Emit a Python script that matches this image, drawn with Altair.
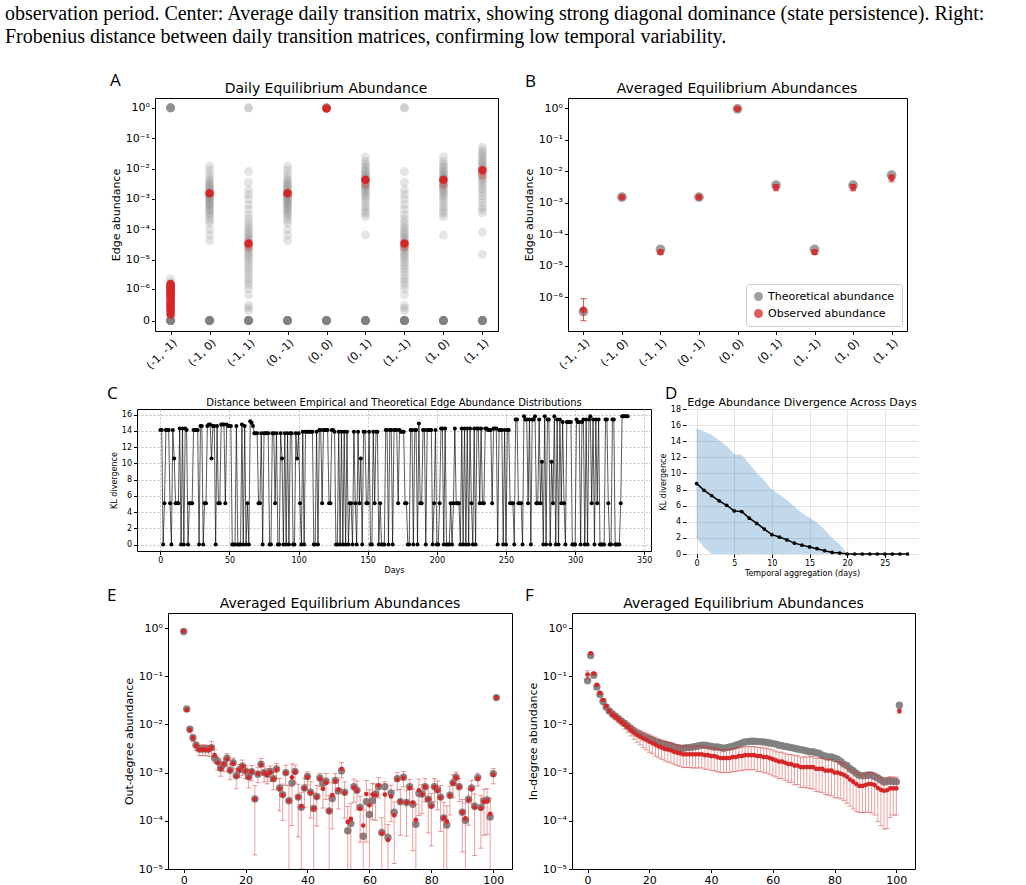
import altair as alt
import pandas as pd

RED = "#d62728"
GREY = "#7f7f7f"
SANS = "DejaVu Sans"

CAPTION = [
    "observation period.  Center: Average daily transition matrix, showing strong diagonal dominance (state persistence).  Right:",
    "Frobenius distance between daily transition matrices, confirming low temporal variability.",
]

CATS = ["(-1, -1)", "(-1, 0)", "(-1, 1)", "(0, -1)", "(0, 0)", "(0, 1)", "(1, -1)", "(1, 0)", "(1, 1)"]

# ---------------- A: daily equilibrium abundance per edge type ----------------
A_MM = [1.0] * 8 + [0.0] * 14 + [2.3e-6, 1.7e-6, 1.3e-6, 1.0e-6, 7e-7, 5e-7, 3e-7, 2e-7, 1.2e-7]
A_CROSS = [0.0] * 14 + [1.2e-2, 9e-3, 6.5e-3, 5e-3, 4.2e-3, 3.6e-3, 3.1e-3, 2.8e-3, 2.5e-3, 2.2e-3,
                        2.0e-3, 1.8e-3, 1.6e-3, 1.5e-3, 1.4e-3, 1.3e-3, 1.2e-3, 1.1e-3, 1.0e-3, 9e-4,
                        8e-4, 7e-4, 6.5e-4, 6e-4, 5e-4, 4.5e-4, 4e-4, 3.5e-4, 3e-4, 2.5e-4,
                        2e-4, 1.6e-4, 1.0e-4, 6.5e-5, 4.2e-5]
A_DIAG = [1.0] * 2 + [0.0] * 14 + [8e-3, 3.5e-3, 2e-3, 1.4e-3, 1e-3, 6.5e-4, 4.5e-4, 3e-4, 2.2e-4, 1.7e-4,
                                   1.3e-4, 1.1e-4, 9e-5, 7.5e-5, 6.5e-5, 5.5e-5, 4.8e-5, 4.2e-5, 3.6e-5, 3.1e-5,
                                   2.7e-5, 2.3e-5, 2e-5, 1.7e-5, 1.4e-5, 1.2e-5, 1e-5, 8e-6, 6.5e-6, 5e-6,
                                   4e-6, 3e-6, 2.3e-6, 1.8e-6, 1.4e-6, 1e-6, 6e-7, 2.2e-7, 1.6e-7, 1.1e-7]
A_STAY = [1.0] * 6 + [0.0] * 14
A_UP = [0.0] * 14 + [2.4e-2, 1.7e-2, 1.4e-2, 1.2e-2, 1.0e-2, 8.5e-3, 7.5e-3, 6.5e-3, 5.8e-3, 5.2e-3,
                     4.7e-3, 4.2e-3, 3.8e-3, 3.4e-3, 3.0e-3, 2.7e-3, 2.4e-3, 2.1e-3, 1.9e-3, 1.6e-3,
                     1.4e-3, 1.2e-3, 1.0e-3, 8e-4, 6e-4, 5e-4, 4e-4, 3.3e-4, 2.6e-4, 6.5e-5]
A_PP = [0.0] * 14 + [5e-2, 4e-2, 3.3e-2, 2.8e-2, 2.4e-2, 2e-2, 1.7e-2, 1.5e-2, 1.3e-2, 1.15e-2,
                     1e-2, 9e-3, 8e-3, 7e-3, 6e-3, 5.2e-3, 4.5e-3, 3.8e-3, 3.2e-3, 2.6e-3,
                     2.1e-3, 1.7e-3, 1.3e-3, 1e-3, 7.5e-4, 5.5e-4, 4.5e-4, 3.5e-4, 8e-5, 1.5e-5]
A_GREY = [A_MM, A_CROSS, A_DIAG, A_CROSS, A_STAY, A_UP, A_DIAG, A_UP, A_PP]

A_RED_MM = [1.5e-6, 1.3e-6, 1.15e-6, 1e-6, 9e-7, 8e-7, 7e-7, 6e-7, 5e-7, 4e-7, 3e-7, 2.5e-7, 2e-7, 1.5e-7, 1e-7, 6e-8]
A_RED_MEAN = [None, 1.55e-3, 3.4e-5, 1.55e-3, 0.95, 4.3e-3, 3.4e-5, 4.3e-3, 8.8e-3]
A_RED_FAINT = [None, None, 2.6e-5, None, None, 3.0e-3, 2.6e-5, 3.0e-3, 6.0e-3]

# ---------------- B: averaged abundances ----------------
B_THEO = [3.5e-7, 1.5e-3, 3.3e-5, 1.5e-3, 0.95, 3.6e-3, 3.3e-5, 3.6e-3, 7.5e-3]
B_OBS = [4.0e-7, 1.5e-3, 2.7e-5, 1.5e-3, 0.95, 3.1e-3, 2.7e-5, 3.1e-3, 6.2e-3]
B_LO = [1.8e-7, 1.45e-3, 2.3e-5, 1.45e-3, 0.93, 2.4e-3, 2.3e-5, 2.4e-3, 4.6e-3]
B_HI = [9.0e-7, 1.55e-3, 3.1e-5, 1.55e-3, 0.97, 3.8e-3, 3.1e-5, 3.8e-3, 7.6e-3]

# ---------------- C: daily KL divergence (one symbol per day) ----------------
C_LEVELS = {"0": 0.0, "5": 5.1, "R": 10.2, "T": 10.6, "a": 13.7, "b": 13.9, "c": 14.1, "d": 14.3,
            "e": 14.6, "f": 14.8, "l": 14.9, "j": 15.0, "g": 15.1, "k": 15.2, "h": 15.4, "i": 15.8}
C_DAYS = [
    "cc05ccc50c", "T555d0d0dc", "0555cccc0e", "e055effTee", "0e55fff5fe",
    "ee000e000f", "0e050kjeaa", "a55a0aaaa0", "0aa5a00aT0", "a0a0aa00aT",
    "a50b0bbbbb", "b00b0cc5cc", "cc55ccb00b", "0b0b0b0550", "b50b5T0bb5",
    "5b00b5bb05", "000cc0cc0c", "cc5cbbb550", "0cc0cc0l55", "cc0cccc05c",
    "005dd0d000", "505d5550d0", "d0d0d50d0d", "d5d55ddccc", "5ddd0ccc0c",
    "0cc5550hh5", "550ihh5h0h", "hi55h5R0i0", "hh0R5i0h0h", "5g50gggg00",
    "0hgg0gh0h0", "hi5h0h5h00", "00hh500hh0", "0005iiiii",
]

# ---------------- D: divergence vs temporal aggregation ----------------
D_AGG = list(range(29))
D_MEAN = [8.75, 7.9, 7.25, 6.6, 6.05, 5.35, 5.27, 4.45, 3.8, 3.1, 2.4, 2.1, 1.75, 1.35, 1.1,
          0.87, 0.66, 0.41, 0.2, 0.12, 0, 0, 0, 0, 0, 0, 0, 0, 0]
D_UPPER = [15.6, 15.2, 14.8, 14.1, 13.4, 12.4, 12.3, 11.2, 10.1, 9.1, 8.0, 7.4, 6.7, 5.9, 5.1,
           4.5, 3.9, 3.0, 2.0, 1.2, 0, 0, 0, 0, 0, 0, 0, 0, 0]
D_LOWER = [2.0, 0.8, 0, 0, 0, 0, 0, 0, 0, 0, 0, 0, 0, 0, 0,
           0, 0, 0, 0, 0, 0, 0, 0, 0, 0, 0, 0, 0, 0]

# ---------------- E: out-degree abundances ----------------
E_THEO = [
    0.85, 0.021, 0.0080, 0.0053, 0.0037, 0.0031, 0.0031, 0.0031, 0.0031, 0.0033,
    0.0020, 0.0017, 0.00125, 0.0015, 0.0020, 0.00112, 0.00160, 0.00086, 0.00115, 0.00135,
    0.00108, 0.00082, 0.00104, 0.000285, 0.00093, 0.00150, 0.00100, 0.00092, 0.00106, 0.00075,
    0.00119, 0.00048, 0.00035, 0.00100, 0.00026, 0.00061, 0.00106, 0.00031, 0.00019, 0.00048,
    0.00083, 0.00039, 0.00018, 0.00032, 0.00077, 0.00061, 0.00066, 0.00016, 0.00029, 0.00069,
    0.00042, 0.00108, 0.00039, 0.000062, 0.000088, 0.00051, 0.00043, 0.00019, 0.000048, 0.00025,
    0.000135, 0.00026, 0.00036, 0.00051, 0.000057, 0.00051, 0.000045, 0.00038, 0.00015, 0.00075,
    0.00025, 0.00080, 0.00024, 0.00051, 0.00022, 0.000085, 0.00037, 0.00036, 0.00051, 0.00028,
    0.00021, 0.00051, 0.00044, 0.00031, 0.000115, 0.000082, 0.00034, 0.00062, 0.00080, 0.00051,
    0.00015, 0.000103, 0.00028, 0.00048, 0.00020, 0.00078, 0.00019, 0.00026, 0.00027, 0.00012,
    0.00095, 0.036,
]
E_OBS = [
    0.86, 0.020, 0.0076, 0.0052, 0.0036, 0.0030, 0.0030, 0.0030, 0.0029, 0.0033,
    0.0023, 0.0016, 0.0012, 0.0015, 0.0019, 0.00110, 0.00155, 0.00084, 0.00113, 0.00135,
    0.00108, 0.00080, 0.00104, 0.00028, 0.00095, 0.00145, 0.00098, 0.00090, 0.00102, 0.00073,
    0.00115, 0.00046, 0.00034, 0.00098, 0.00026, 0.00080, 0.00102, 0.00031, 0.00020, 0.00047,
    0.00080, 0.00038, 0.00018, 0.00031, 0.00074, 0.00046, 0.00062, 0.00016, 0.00034, 0.00066,
    0.00044, 0.00120, 0.00038, 0.000095, 0.000110, 0.00049, 0.00042, 0.00018, 0.000080, 0.00036,
    0.00021, 0.00035, 0.00034, 0.00054, 0.000055, 0.00035, 0.000040, 0.00032, 0.00013, 0.00072,
    0.00025, 0.00078, 0.00024, 0.00048, 0.00024, 0.000105, 0.00043, 0.00035, 0.00050, 0.00028,
    0.00020, 0.00050, 0.00042, 0.00030, 0.000115, 0.000097, 0.00033, 0.00060, 0.00078, 0.00050,
    0.00015, 0.000112, 0.00027, 0.00046, 0.00019, 0.00075, 0.00018, 0.00025, 0.00026, 0.00014,
    0.00090, 0.036,
]
# relative spread (std / mean) of the observed abundance
E_REL = [
    0.02, 0.08, 0.12, 0.15, 0.2, 0.25, 0.25, 0.25, 0.25, 0.35,
    0.3, 0.3, 0.3, 0.3, 0.3, 0.35, 0.3, 0.45, 0.3, 0.35,
    0.3, 0.4, 0.35, 0.93, 0.35, 0.35, 0.35, 0.35, 0.35, 0.4,
    0.35, 0.65, 0.7, 0.45, 1.1, 0.9, 0.4, 0.85, 0.95, 0.6,
    0.3, 0.7, 1.1, 0.75, 0.3, 0.6, 0.55, 1.1, 0.8, 0.45,
    0.6, 0.35, 0.7, 1.1, 1.1, 0.5, 0.6, 0.8, 1.1, 0.9,
    1.1, 0.7, 0.7, 0.45, 1.1, 0.85, 1.1, 0.7, 0.9, 0.4,
    0.8, 0.35, 0.8, 0.5, 0.9, 1.1, 0.7, 0.6, 0.5, 0.8,
    0.85, 0.5, 0.6, 0.8, 1.1, 1.1, 0.6, 0.5, 0.3, 0.5,
    0.85, 1.1, 0.7, 0.5, 0.9, 0.3, 0.85, 0.8, 0.8, 1.1,
    0.35, 0.05,
]

# ---------------- F: in-degree abundances ----------------
F_THEO = [
    0.081, 0.27, 0.105, 0.060, 0.042, 0.030, 0.023, 0.019, 0.0166, 0.0148,
    0.0132, 0.0117, 0.0105, 0.0093, 0.0082, 0.0073, 0.0066, 0.0061, 0.0057, 0.0053,
    0.0050, 0.0047, 0.0044, 0.0042, 0.0040, 0.0039, 0.0037, 0.0036, 0.0034, 0.0033,
    0.0032, 0.0032, 0.0033, 0.0033, 0.0034, 0.0035, 0.0036, 0.0037, 0.0037, 0.0036,
    0.0035, 0.0034, 0.0034, 0.0033, 0.0032, 0.0033, 0.0034, 0.0035, 0.0037, 0.0039,
    0.0041, 0.0043, 0.0044, 0.0045, 0.0045, 0.0044, 0.0044, 0.0043, 0.0042, 0.0041,
    0.0040, 0.0039, 0.0037, 0.0036, 0.0035, 0.0034, 0.0033, 0.0032, 0.0031, 0.0030,
    0.0029, 0.0028, 0.0027, 0.0027, 0.0026, 0.0025, 0.0023, 0.0022, 0.0021, 0.0021,
    0.0020, 0.0019, 0.0017, 0.0015, 0.0014, 0.0012, 0.0011, 0.00097, 0.00088, 0.00086,
    0.00087, 0.00089, 0.00088, 0.00083, 0.00077, 0.00070, 0.00064, 0.00066, 0.00067, 0.00066,
    0.00065, 0.025,
]
F_OBS = [
    0.108, 0.30, 0.114, 0.066, 0.045, 0.032, 0.024, 0.019, 0.016, 0.0145,
    0.0128, 0.0113, 0.0100, 0.0088, 0.0077, 0.0068, 0.0061, 0.0056, 0.0051, 0.0048,
    0.0044, 0.0041, 0.0038, 0.0035, 0.0033, 0.0031, 0.0030, 0.0029, 0.0027, 0.0026,
    0.0025, 0.0024, 0.0024, 0.0024, 0.0024, 0.0024, 0.0024, 0.0024, 0.0023, 0.0023,
    0.0022, 0.0022, 0.0021, 0.0020, 0.0020, 0.0020, 0.0020, 0.0021, 0.0021, 0.0022,
    0.0022, 0.0023, 0.0023, 0.0023, 0.0023, 0.0022, 0.0022, 0.0021, 0.0021, 0.0020,
    0.0019, 0.0018, 0.0017, 0.0017, 0.0016, 0.0015, 0.0015, 0.0014, 0.0014, 0.0013,
    0.0013, 0.0013, 0.0013, 0.0013, 0.0012, 0.0012, 0.0012, 0.0011, 0.0011, 0.0011,
    0.0010, 0.00100, 0.00095, 0.00090, 0.00082, 0.00072, 0.00065, 0.00058, 0.00053, 0.00053,
    0.00055, 0.00058, 0.00058, 0.00055, 0.00048, 0.00044, 0.00042, 0.00043, 0.00047, 0.00047,
    0.00047, 0.019,
]
F_REL = [
    0.2, 0.05, 0.05, 0.05, 0.06, 0.07, 0.08, 0.1, 0.12, 0.14,
    0.15, 0.17, 0.2, 0.22, 0.25, 0.28, 0.3, 0.33, 0.36, 0.38,
    0.4, 0.4, 0.42, 0.42, 0.43, 0.44, 0.45, 0.45, 0.45, 0.46,
    0.46, 0.47, 0.47, 0.47, 0.48, 0.48, 0.48, 0.48, 0.49, 0.49,
    0.5, 0.5, 0.5, 0.5, 0.5, 0.5, 0.5, 0.5, 0.5, 0.5,
    0.5, 0.5, 0.5, 0.5, 0.5, 0.52, 0.52, 0.53, 0.53, 0.54,
    0.55, 0.55, 0.56, 0.56, 0.57, 0.58, 0.58, 0.6, 0.6, 0.62,
    0.62, 0.63, 0.64, 0.65, 0.66, 0.67, 0.68, 0.68, 0.69, 0.7,
    0.7, 0.7, 0.7, 0.71, 0.72, 0.72, 0.73, 0.73, 0.72, 0.72,
    0.73, 0.74, 0.75, 0.76, 0.8, 0.82, 0.84, 0.84, 0.75, 0.72,
    0.72, 0.1,
]

LOG_LABELS = ("datum.value == 0 ? '0' : '10' + ['⁰','⁻¹','⁻²','⁻³','⁻⁴','⁻⁵','⁻⁶','⁻⁷']"
              "[round(-log(datum.value) / LN10)]")
FRAME = alt.ViewBackground(stroke="black", strokeWidth=1)
NOFRAME = alt.ViewBackground(strokeOpacity=0)


def label(text, x, y, size, font=SANS, align="center"):
    return alt.Chart(pd.DataFrame({"t": [text]})).mark_text(
        align=align, baseline="alphabetic", font=font, fontSize=size, color="black"
    ).encode(text="t:N", x=alt.value(x), y=alt.value(y))


def letter(ch, x, y):
    return label(ch, x, y, 17, font="Open Sans", align="left")


def anchor(y):
    # invisible point that fixes the vertical extent of a row in the page layout
    return alt.Chart(pd.DataFrame({"t": [0]})).mark_point(opacity=0, size=1).encode(
        x=alt.value(50), y=alt.value(y))


def spacer(w):
    return alt.Chart(pd.DataFrame({"v": [0]})).mark_point(opacity=0, size=1).encode(
        x=alt.X("v:Q", axis=None), y=alt.Y("v:Q", axis=None)
    ).properties(width=w, height=10, view=NOFRAME)


def cat_x():
    return alt.X("cat:N", scale=alt.Scale(type="point", domain=CATS, padding=0.4),
                 axis=alt.Axis(title=None, labelAngle=-45, labelAlign="right", labelBaseline="top",
                               labelFontSize=11, labelPadding=2))


# ---- panel A
rows = []
for cat, vals in zip(CATS, A_GREY):
    rows += [{"cat": cat, "v": v} for v in vals]
df_a_grey = pd.DataFrame(rows)
red_rows = [{"cat": CATS[0], "v": v, "o": 1.0} for v in A_RED_MM]
for cat, m, f in zip(CATS, A_RED_MEAN, A_RED_FAINT):
    if m is not None:
        red_rows.append({"cat": cat, "v": m, "o": 1.0})
    if f is not None:
        red_rows.append({"cat": cat, "v": f, "o": 0.3})
df_a_red = pd.DataFrame(red_rows)

a_y = alt.Y("v:Q", scale=alt.Scale(type="symlog", constant=1e-7, domain=[-1.2e-7, 2.1], nice=False, zero=False),
            axis=alt.Axis(values=[0, 1e-6, 1e-5, 1e-4, 1e-3, 1e-2, 1e-1, 1], tickCount=30, labelExpr=LOG_LABELS,
                          title="Edge abundance", labelFontSize=11, titleFontSize=11, titlePadding=4))
a_grey = alt.Chart(df_a_grey).mark_circle(size=80, color=GREY, opacity=0.2).encode(x=cat_x(), y=a_y)
a_red = alt.Chart(df_a_red).mark_circle(size=72, color=RED).encode(
    x="cat:N", y="v:Q", opacity=alt.Opacity("o:Q", scale=None, legend=None))
panel_a = alt.layer(a_grey, a_red, letter("A", -45, -12), label("Daily Equilibrium Abundance", 171, -5, 14),
                    anchor(-32), anchor(281)).properties(width=343, height=233, view=FRAME)

# ---- panel B
df_b = pd.DataFrame({"cat": CATS, "theo": B_THEO, "obs": B_OBS, "lo": B_LO, "hi": B_HI})
b_scale = alt.Scale(type="log", domain=[8.5e-8, 2.1], nice=False)
b_y = alt.Y("theo:Q", scale=b_scale,
            axis=alt.Axis(values=[1e-6, 1e-5, 1e-4, 1e-3, 1e-2, 1e-1, 1], tickCount=30, labelExpr=LOG_LABELS,
                          title="Edge abundance", labelFontSize=11, titleFontSize=11, titlePadding=4))
series_color = alt.Color(
    "series:N",
    scale=alt.Scale(domain=["Theoretical abundance", "Observed abundance"], range=[GREY, RED]),
    legend=alt.Legend(title=None, orient="bottom-right", labelFontSize=11, labelFont=SANS, labelColor="black",
                      symbolType="circle", symbolSize=80, strokeColor="#cccccc", fillColor="white",
                      padding=7, cornerRadius=3, offset=5, rowPadding=5, labelLimit=250),
)
b_theo = alt.Chart(df_b).transform_calculate(series="'Theoretical abundance'").mark_circle(
    size=95, opacity=0.75).encode(x=cat_x(), y=b_y, color=series_color)
b_err = alt.Chart(df_b).mark_rule(color=RED, opacity=0.8, strokeWidth=1).encode(x="cat:N", y="lo:Q", y2="hi:Q")
b_cap_lo = alt.Chart(df_b).mark_point(shape="M-1,0L1,0", size=36, color=RED, strokeWidth=1, opacity=0.8).encode(
    x="cat:N", y="lo:Q")
b_cap_hi = alt.Chart(df_b).mark_point(shape="M-1,0L1,0", size=36, color=RED, strokeWidth=1, opacity=0.8).encode(
    x="cat:N", y="hi:Q")
b_obs = alt.Chart(df_b).transform_calculate(series="'Observed abundance'").mark_circle(
    size=45, opacity=0.85).encode(x="cat:N", y="obs:Q", color=series_color)
panel_b = alt.layer(b_theo, b_err, b_cap_lo, b_cap_hi, b_obs, letter("B", -43, -11),
                    label("Averaged Equilibrium Abundances", 169, -5, 14)).properties(
    width=339, height=233, view=FRAME)

# ---- panel C
c_codes = "".join(C_DAYS)
df_c = pd.DataFrame({"day": list(range(len(c_codes))), "kl": [C_LEVELS[ch] for ch in c_codes]})
c_x = alt.X("day:Q", scale=alt.Scale(domain=[-16.9, 354.9], nice=False, zero=False),
            axis=alt.Axis(values=list(range(0, 351, 50)), tickCount=30, format="d", title="Days", labelFontSize=8,
                          titleFontSize=8, titlePadding=2, grid=True, gridColor="#b0b0b0", gridDash=[2, 2],
                          gridOpacity=0.8))
c_y = alt.Y("kl:Q", scale=alt.Scale(domain=[-0.8, 16.7], nice=False, zero=False),
            axis=alt.Axis(values=list(range(0, 17, 2)), tickCount=30, format="d", title="KL divergence",
                          labelFontSize=8, titleFontSize=8, titlePadding=3, grid=True, gridColor="#b0b0b0",
                          gridDash=[2, 2], gridOpacity=0.8))
c_line = alt.Chart(df_c).mark_line(color="black", opacity=0.65, strokeWidth=1).encode(x=c_x, y=c_y)
c_pts = alt.Chart(df_c).mark_circle(size=16, color="black", opacity=1).encode(x="day:Q", y="kl:Q")
panel_c = alt.layer(c_line, c_pts, letter("C", -30, -10),
                    label("Distance between Empirical and Theoretical Edge Abundance Distributions", 257, -3, 10),
                    anchor(-28)).properties(width=514, height=142, view=FRAME)

# ---- panel D
df_d = pd.DataFrame({"agg": D_AGG, "mean": D_MEAN, "up": D_UPPER, "lo": D_LOWER})
d_x = alt.X("agg:Q", scale=alt.Scale(domain=[-1.4, 29.4], nice=False, zero=False),
            axis=alt.Axis(values=[0, 5, 10, 15, 20, 25], tickCount=30, format="d",
                          title="Temporal aggregation (days)", labelFontSize=8, titleFontSize=8, titlePadding=2,
                          grid=True, gridColor="#e3e3e3"))
d_y = alt.Y("lo:Q", scale=alt.Scale(domain=[0, 18], nice=False),
            axis=alt.Axis(values=list(range(0, 19, 2)), tickCount=30, format="d", title="KL divergence",
                          labelFontSize=8, titleFontSize=8, titlePadding=3, grid=True, gridColor="#e3e3e3"))
d_band = alt.Chart(df_d).mark_area(color="#1f77b4", opacity=0.28).encode(x=d_x, y=d_y, y2="up:Q")
d_line = alt.Chart(df_d).mark_line(color="black", strokeWidth=1.5).encode(x="agg:Q", y="mean:Q")
d_pts = alt.Chart(df_d).mark_circle(size=14, color="black", opacity=1).encode(x="agg:Q", y="mean:Q")
panel_d = alt.layer(d_band, d_line, d_pts, letter("D", -21, -10),
                    label("Edge Abundance Divergence Across Days", 116, -3, 11), anchor(174)).properties(
    width=232, height=145, view=NOFRAME)


# ---- panels E and F
def degree_panel(theo, obs, rel, ytitle, ch, lx, width, extra):
    df = pd.DataFrame({"k": list(range(len(theo))), "theo": theo, "obs": obs, "rel": rel})
    df["lo"] = [max(o * (1 - r), 1e-7) for o, r in zip(obs, rel)]
    df["hi"] = [o * (1 + r) for o, r in zip(obs, rel)]
    x = alt.X("k:Q", scale=alt.Scale(domain=[-5.05, 106.05], nice=False, zero=False),
              axis=alt.Axis(values=[0, 20, 40, 60, 80, 100], tickCount=30, format="d", title=None,
                            labelFontSize=11))
    y = alt.Y("theo:Q", scale=alt.Scale(type="log", domain=[1e-5, 2.05], nice=False),
              axis=alt.Axis(values=[1e-5, 1e-4, 1e-3, 1e-2, 1e-1, 1], tickCount=30, labelExpr=LOG_LABELS,
                            title=ytitle, labelFontSize=11, titleFontSize=11, titlePadding=4))
    grey = alt.Chart(df).mark_circle(size=55, color=GREY, opacity=0.95).encode(x=x, y=y)
    err = alt.Chart(df).mark_rule(color=RED, opacity=0.45, strokeWidth=1, clip=True).encode(
        x="k:Q", y="lo:Q", y2="hi:Q")
    cap_lo = alt.Chart(df).mark_point(shape="M-1,0L1,0", size=25, color=RED, strokeWidth=1, opacity=0.45,
                                      clip=True).encode(x="k:Q", y="lo:Q")
    cap_hi = alt.Chart(df).mark_point(shape="M-1,0L1,0", size=25, color=RED, strokeWidth=1, opacity=0.45,
                                      clip=True).encode(x="k:Q", y="hi:Q")
    red = alt.Chart(df).mark_circle(size=22, color=RED, opacity=1).encode(x="k:Q", y="obs:Q")
    return alt.layer(grey, err, cap_lo, cap_hi, red, letter(ch, lx, -12),
                     label("Averaged Equilibrium Abundances", width / 2, -5, 14), *extra).properties(
        width=width, height=256, view=FRAME)


panel_e = degree_panel(E_THEO, E_OBS, E_REL, "Out-degree abundance", "E", -61, 344, [anchor(-28)])
panel_f = degree_panel(F_THEO, F_OBS, F_REL, "In-degree abundance", "F", -47, 343, [])

row1 = alt.hconcat(spacer(18), panel_a, spacer(70), panel_b, spacing=0, bounds="flush").resolve_scale(
    color="independent").resolve_legend(color="independent")
row2 = alt.hconcat(panel_c, spacer(35), panel_d, spacing=0, bounds="flush")
row3 = alt.hconcat(spacer(31), panel_e, spacer(60), panel_f, spacing=0, bounds="flush")

chart = alt.vconcat(row1, row2, row3, spacing=0).resolve_scale(
    color="independent").resolve_legend(color="independent").properties(
    title=alt.TitleParams(CAPTION, anchor="start", frame="group", font="Liberation Serif", fontSize=20,
                          fontWeight="normal", lineHeight=23, color="black", dx=-132, offset=18),
    padding={"left": 5, "top": 4, "right": 2, "bottom": 0},
    background="white",
).configure_axis(
    labelFont=SANS, titleFont=SANS, labelColor="black", titleColor="black", tickColor="black",
    titleFontWeight="normal", domain=False, grid=False, tickSize=3.5, labelPadding=2, labelOverlap=False,
).configure_view(stroke="black", strokeWidth=1)

chart.save("out.html", embed_options={"renderer": "svg", "actions": False})
